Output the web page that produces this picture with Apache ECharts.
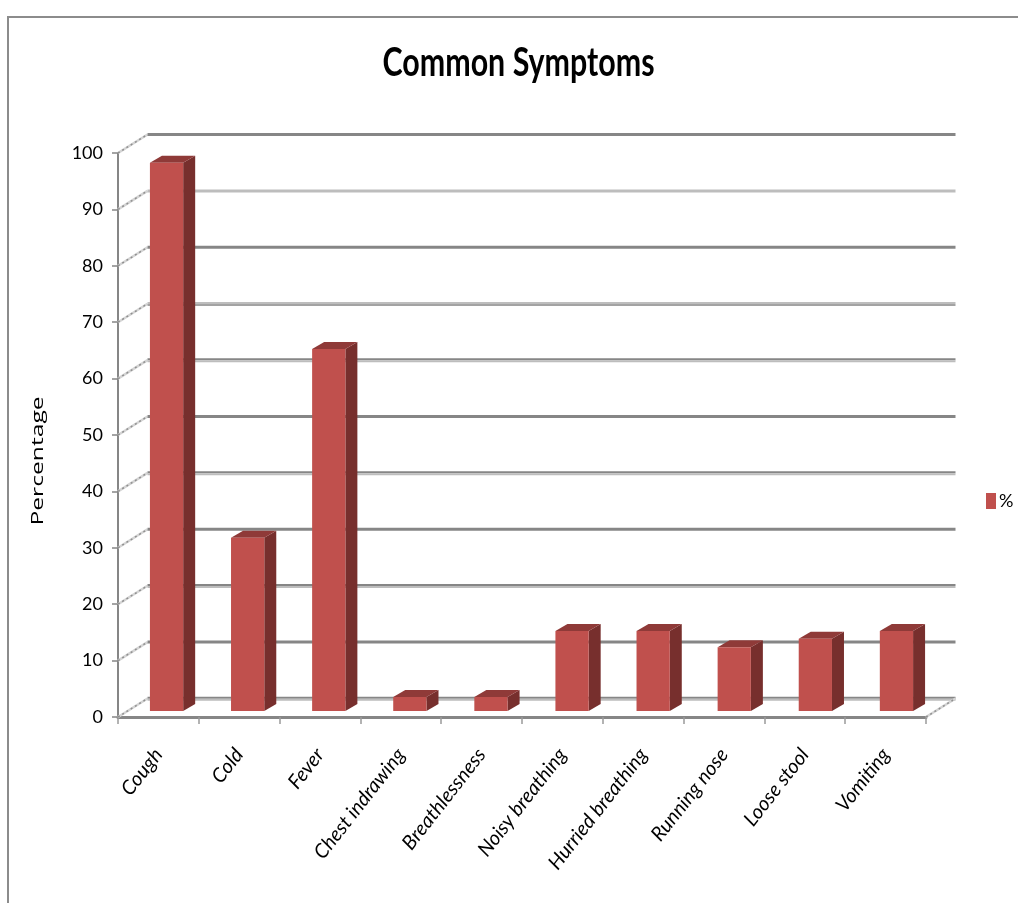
<!DOCTYPE html>
<html>
<head>
<meta charset="utf-8">
<title>Common Symptoms</title>
<style>html,body{margin:0;padding:0;background:#fff}#chart{width:1018px;height:903px}</style>
<script src="https://cdn.jsdelivr.net/npm/echarts@6/dist/echarts.min.js"></script>
</head>
<body>
<div id="chart"></div>
<script>
// Symptom frequencies, in percent of cases
const categories = ['Cough', 'Cold', 'Fever', 'Chest indrawing', 'Breathlessness', 'Noisy breathing', 'Hurried breathing', 'Running nose', 'Loose stool', 'Vomiting'];
const percentages = [97.2, 30.7, 64.2, 2.5, 2.5, 14.2, 14.2, 11.3, 12.8, 14.2];
const gridLevels = [0, 10, 20, 30, 40, 50, 60, 70, 80, 90, 100];

// Pseudo-3D projection: the back wall and bar depth are pixel shifts of the front plane
const WALL_DX = 29.5, WALL_DY = -18.5;
const BAR_DX = 12, BAR_DY = -7;
const AXIS_GREY = '#868686';
const LIGHT_GREY = '#bdbdbd';
const FONT = 'Lato, "Open Sans", sans-serif';

// Back-wall rule tones, top edge first
const SOLID_DARK = [AXIS_GREY];
const DARK_OVER_LIGHT = [AXIS_GREY, LIGHT_GREY];
const ruleTones = {
  0: DARK_OVER_LIGHT, 10: SOLID_DARK, 20: DARK_OVER_LIGHT, 30: SOLID_DARK,
  40: DARK_OVER_LIGHT, 50: SOLID_DARK, 60: DARK_OVER_LIGHT, 70: [LIGHT_GREY, '#a3a3a3'],
  80: SOLID_DARK, 90: [LIGHT_GREY], 100: SOLID_DARK
};

function dashedEdge(x1, y1, x2, y2) {
  return [
    { type: 'line', shape: { x1, y1, x2, y2 }, style: { stroke: '#d4d4d4', lineWidth: 2.5 } },
    { type: 'line', shape: { x1, y1, x2, y2 }, style: { stroke: '#8f8f8f', lineWidth: 1.5, lineDash: [2, 3] } }
  ];
}

function renderWall(params, api) {
  const level = api.value(0);
  const sys = params.coordSys;
  const y = api.coord([0, level])[1];
  const left = sys.x, right = sys.x + sys.width;
  const wallY = y + WALL_DY;
  const tones = ruleTones[level];
  const children = dashedEdge(left, y, left + WALL_DX, wallY);
  tones.forEach((tone, k) => {
    const ty = tones.length === 1 ? wallY : wallY - 0.75 + k * 2;
    children.push({ type: 'line',
      shape: { x1: left + WALL_DX, y1: ty, x2: right + WALL_DX, y2: ty },
      style: { stroke: tone, lineWidth: tones.length === 1 ? 3 : 2 } });
  });
  if (level === 0) children.push(...dashedEdge(right, y, right + WALL_DX, wallY));
  return { type: 'group', children };
}

function renderBar(params, api) {
  const i = api.value(0), v = api.value(1);
  const base = api.coord([i, 0]), top = api.coord([i, v]);
  const w = api.size([1, 0])[0] * 0.41;
  const l = base[0] - w / 2, r = base[0] + w / 2;
  return { type: 'group', children: [
    { type: 'polygon', shape: { points: [[r, top[1]], [r + BAR_DX, top[1] + BAR_DY], [r + BAR_DX, base[1] + BAR_DY], [r, base[1]]] },
      style: { fill: '#772f2d' } },
    { type: 'polygon', shape: { points: [[l, top[1]], [l + BAR_DX, top[1] + BAR_DY], [r + BAR_DX, top[1] + BAR_DY], [r, top[1]]] },
      style: { fill: '#8f3a38' } },
    { type: 'rect', shape: { x: l, y: top[1], width: w, height: base[1] - top[1] },
      style: { fill: '#c0504d' } }
  ] };
}

const chart = echarts.init(document.getElementById('chart'));
chart.setOption({
  animation: false,
  backgroundColor: '#fff',
  legend: {
    data: ['%'], left: 981, top: 487, itemWidth: 10, itemHeight: 16, itemGap: 4,
    icon: 'rect', textStyle: { fontFamily: FONT, fontSize: 18, color: '#000', padding: [0, 0, 0, -2] }
  },
  grid: [
    { left: 118, top: 153, width: 808, height: 564 },
    { left: 126, top: 147, width: 811, height: 564 }
  ],
  xAxis: [
    { type: 'category', gridIndex: 0, data: categories,
      axisLine: { lineStyle: { color: AXIS_GREY, width: 3 } },
      axisTick: { show: true, length: 7, lineStyle: { color: '#9a9a9a', width: 1.5 } },
      axisLabel: { rotate: 52, interval: 0, margin: 34, fontFamily: FONT, fontStyle: 'italic', fontSize: 20, color: '#000' } },
    { type: 'category', gridIndex: 1, data: categories, show: false }
  ],
  yAxis: [
    { type: 'value', gridIndex: 0, min: 0, max: 100, interval: 10,
      axisLine: { show: true, lineStyle: { color: AXIS_GREY, width: 2 } },
      axisTick: { show: true, length: 6, lineStyle: { color: AXIS_GREY, width: 1.5 } },
      axisLabel: { margin: 15, padding: [8, 0, 0, 0], fontFamily: FONT, fontSize: 18, color: '#000' },
      splitLine: { show: false } },
    { type: 'value', gridIndex: 1, min: 0, max: 100, show: false, splitLine: { show: false } }
  ],
  graphic: [
    { type: 'polyline', silent: true, shape: { points: [[8, 903], [8, 17], [1018, 17]] },
      style: { stroke: '#8c8c8c', lineWidth: 2, fill: 'none' } },
    // Condensed heading and spread-out axis caption
    { type: 'text', x: 518.5, y: 63, scaleX: 0.76, silent: true,
      style: { text: 'Common Symptoms', align: 'center', verticalAlign: 'middle', font: 'bold 40px Lato, sans-serif', fill: '#000' } },
    { type: 'text', x: 38, y: 461, rotation: Math.PI / 2, scaleX: 1.45, silent: true,
      style: { text: 'Percentage', align: 'center', verticalAlign: 'middle', font: '17px "Open Sans", sans-serif', fill: '#000' } }
  ],
  series: [
    { type: 'custom', name: 'wall', xAxisIndex: 0, yAxisIndex: 0, z: 1, silent: true,
      renderItem: renderWall, data: gridLevels.map(v => [v]), encode: { y: 0 } },
    { type: 'custom', name: '%', xAxisIndex: 1, yAxisIndex: 1, z: 2, silent: true,
      itemStyle: { color: '#c0504d' }, renderItem: renderBar,
      data: percentages.map((v, i) => [i, v]), encode: { x: 0, y: 1 } }
  ]
});
</script>
</body>
</html>
